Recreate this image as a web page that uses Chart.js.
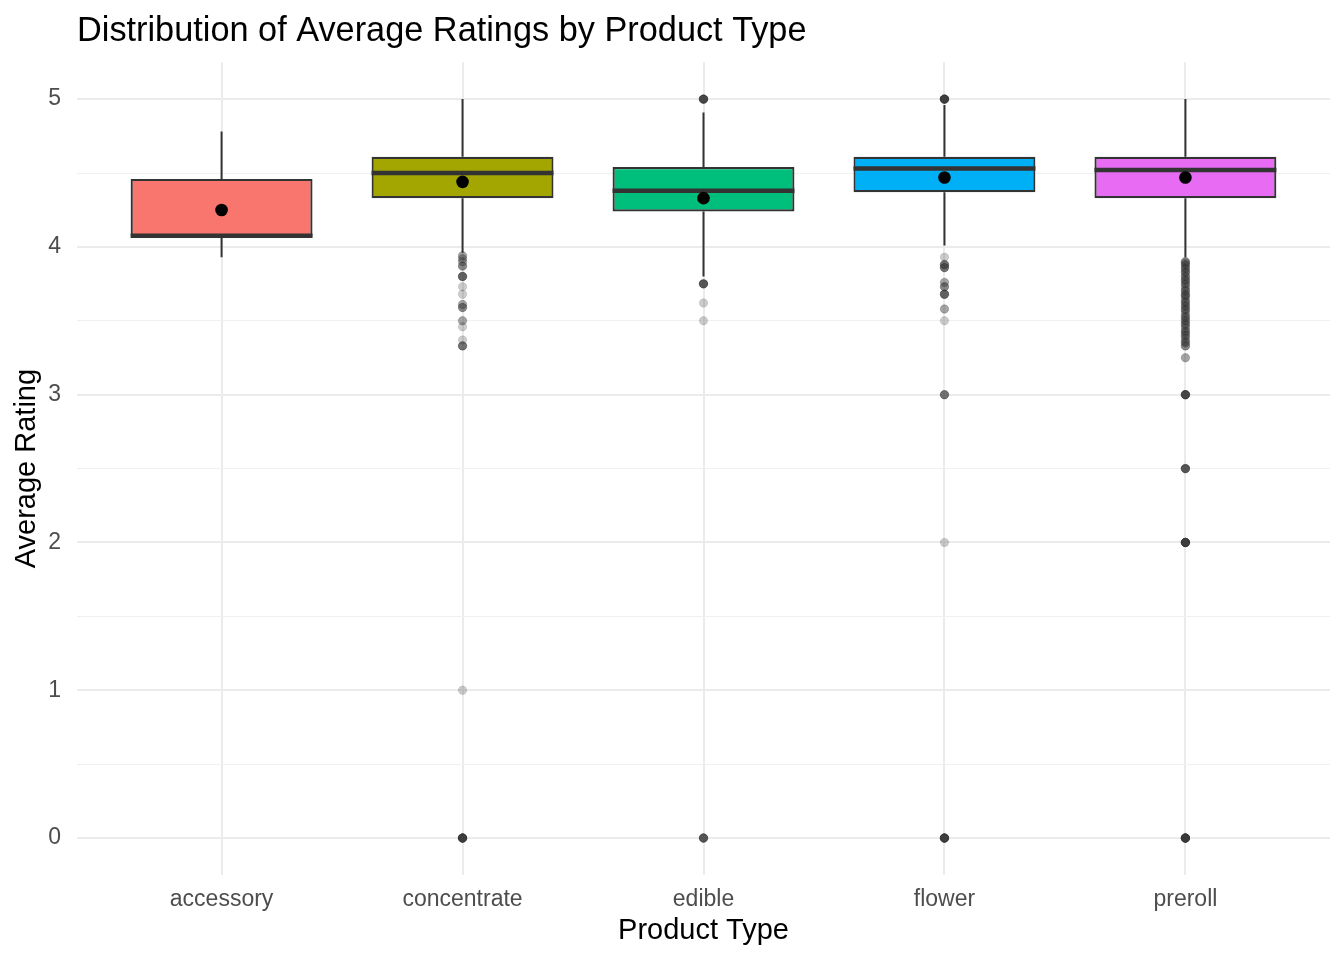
<!DOCTYPE html>
<html>
<head>
<meta charset="utf-8">
<script src="https://cdn.jsdelivr.net/npm/chart.js@4.4.1/dist/chart.umd.min.js"></script>
<style>
  html, body { margin: 0; padding: 0; background: #ffffff; }
  #wrap { width: 1344px; height: 960px; }
</style>
</head>
<body>
<div id="wrap"><canvas id="c" width="1344" height="960"></canvas></div>
<script>
// ---- Data ----
const categories = ['accessory', 'concentrate', 'edible', 'flower', 'preroll'];
const boxColors = ['#F8766D', '#A3A500', '#00BF7D', '#00B0F6', '#E76BF3'];
const q1Values = [4.07, 4.33, 4.24, 4.37, 4.33];
const medianValues = [4.075, 4.50, 4.38, 4.53, 4.52];
const q3Values = [4.46, 4.61, 4.54, 4.61, 4.61];
const whiskerLow = [3.93, 3.96, 3.80, 4.01, 3.93];
const whiskerHigh = [4.78, 5.00, 4.91, 4.96, 5.00];
const meanValues = [4.25, 4.44, 4.33, 4.47, 4.47];

const outliersAccessory = [];
const outliersConcentrate = [3.94, 3.94, 3.92, 3.92, 3.90, 3.90, 3.87, 3.87, 3.87,
  3.80, 3.80, 3.80, 3.80, 3.80, 3.73, 3.68, 3.61, 3.61, 3.59, 3.59, 3.59,
  3.50, 3.50, 3.46, 3.37, 3.33, 3.33, 3.33, 3.33, 1.00,
  0, 0, 0, 0, 0, 0, 0, 0, 0, 0];
const outliersEdible = [5, 5, 5, 5, 5, 5, 5, 5, 3.75, 3.75, 3.75, 3.75, 3.75, 3.75,
  3.62, 3.50, 0, 0, 0, 0, 0, 0];
const outliersFlower = [5, 5, 5, 5, 5, 5, 5, 5, 5, 5, 3.93, 3.88, 3.88, 3.88, 3.88,
  3.86, 3.86, 3.86, 3.86, 3.76, 3.76, 3.73, 3.73, 3.73, 3.68, 3.68, 3.68, 3.68, 3.68,
  3.58, 3.58, 3.50, 3, 3, 3, 3, 2, 0, 0, 0, 0, 0, 0, 0, 0, 0, 0];
const outliersPreroll = [3.90, 3.90, 3.90, 3.89, 3.88, 3.88, 3.88, 3.86, 3.86, 3.85,
  3.85, 3.83, 3.83, 3.83, 3.82, 3.80, 3.80, 3.80, 3.78, 3.78, 3.77, 3.77, 3.75,
  3.75, 3.75, 3.73, 3.73, 3.71, 3.71, 3.70, 3.70, 3.68, 3.68, 3.67, 3.67, 3.67,
  3.65, 3.65, 3.63, 3.63, 3.62, 3.62, 3.60, 3.60, 3.60, 3.58, 3.58, 3.57, 3.57,
  3.55, 3.55, 3.53, 3.53, 3.52, 3.52, 3.50, 3.50, 3.50, 3.48, 3.48, 3.47, 3.47,
  3.45, 3.45, 3.43, 3.43, 3.42, 3.42, 3.40, 3.40, 3.40, 3.38, 3.38, 3.36, 3.36,
  3.35, 3.35, 3.33, 3.33, 3.33, 3.25, 3.25,
  3, 3, 3, 3, 3, 3, 3, 3, 2.5, 2.5, 2.5, 2.5, 2.5, 2.5, 2, 2, 2, 2, 2, 2, 2, 2, 2, 2,
  0, 0, 0, 0, 0, 0, 0, 0, 0, 0, 0, 0];
const outlierGroups = [outliersAccessory, outliersConcentrate, outliersEdible, outliersFlower, outliersPreroll];

const yMajorTicks = [0, 1, 2, 3, 4, 5];
const yMinorTicks = [0.5, 1.5, 2.5, 3.5, 4.5];
const yTickLabels = ['0', '1', '2', '3', '4', '5'];

// ---- Build datasets ----
const xPositions = categories.map((_, i) => i + 1);
const boxData = xPositions.map((x, i) => ({ x: x, y: [q1Values[i], q3Values[i]] }));
const meanData = xPositions.map((x, i) => ({ x: x, y: meanValues[i] }));
const outlierData = [];
outlierGroups.forEach((arr, i) => arr.forEach(v => outlierData.push({ x: xPositions[i], y: v })));

const FONT = '"Liberation Sans", Arial, "DejaVu Sans", sans-serif';
const DARK = '#333333';

const boxExtras = {
  id: 'boxExtras',
  beforeDatasetsDraw(chart) {
    const { ctx, scales: { x, y } } = chart;
    ctx.save();
    ctx.strokeStyle = DARK;
    ctx.lineWidth = 2;
    ctx.lineCap = 'butt';
    xPositions.forEach((xv, i) => {
      const px = x.getPixelForValue(xv);
      ctx.beginPath();
      ctx.moveTo(px, y.getPixelForValue(whiskerLow[i]));
      ctx.lineTo(px, y.getPixelForValue(q1Values[i]));
      ctx.moveTo(px, y.getPixelForValue(q3Values[i]));
      ctx.lineTo(px, y.getPixelForValue(whiskerHigh[i]));
      ctx.stroke();
    });
    ctx.restore();
  },
  afterDatasetDraw(chart, args) {
    if (args.meta.type !== 'bar') return;
    const { ctx, scales: { y } } = chart;
    ctx.save();
    ctx.strokeStyle = DARK;
    ctx.lineWidth = 4.5;
    args.meta.data.forEach((el, i) => {
      const py = y.getPixelForValue(medianValues[i]);
      ctx.beginPath();
      ctx.moveTo(el.x - el.width / 2, py);
      ctx.lineTo(el.x + el.width / 2, py);
      ctx.stroke();
    });
    ctx.restore();
  }
};

new Chart(document.getElementById('c'), {
  type: 'bar',
  data: {
    datasets: [
      {
        type: 'scatter',
        label: 'mean',
        data: meanData,
        order: 1,
        pointRadius: 6.3,
        pointBackgroundColor: '#000000',
        pointBorderWidth: 0,
        showLine: false
      },
      {
        type: 'scatter',
        label: 'outliers',
        data: outlierData,
        order: 2,
        pointRadius: 4.2,
        pointBackgroundColor: 'rgba(51,51,51,0.25)',
        pointBorderColor: 'rgba(51,51,51,0.25)',
        pointBorderWidth: 0.5,
        showLine: false
      },
      {
        type: 'bar',
        label: 'box',
        data: boxData,
        order: 3,
        backgroundColor: boxColors,
        borderColor: DARK,
        borderWidth: 2.2,
        borderSkipped: false,
        grouped: false,
        barPercentage: 0.755,
        categoryPercentage: 1
      }
    ]
  },
  options: {
    responsive: false,
    animation: false,
    devicePixelRatio: 1,
    layout: { padding: { left: 0, right: 14, top: 0, bottom: 0 } },
    plugins: {
      legend: { display: false },
      tooltip: { enabled: false },
      title: {
        display: true,
        text: 'Distribution of Average Ratings by Product Type',
        align: 'start',
        fullSize: false,
        color: '#000000',
        font: { family: FONT, size: 34.3, weight: 'normal' },
        padding: { top: 11, bottom: 10 }
      }
    },
    scales: {
      x: {
        type: 'linear',
        min: 0.4,
        max: 5.6,
        offset: false,
        afterBuildTicks(scale) { scale.ticks = xPositions.map(v => ({ value: v })); },
        afterFit(scale) { scale.height = 85; },
        border: { display: false },
        grid: { color: '#ebebeb', lineWidth: 2, drawTicks: false, offset: false },
        ticks: {
          padding: 11,
          color: '#4d4d4d',
          font: { family: FONT, size: 23 },
          autoSkip: false,
          maxRotation: 0,
          callback: (v) => categories[Math.round(v) - 1] || ''
        },
        title: {
          display: true,
          text: 'Product Type',
          color: '#000000',
          font: { family: FONT, size: 29 },
          padding: { top: 0, bottom: 12 }
        }
      },
      y: {
        type: 'linear',
        min: -0.25,
        max: 5.25,
        afterBuildTicks(scale) {
          scale.ticks = yMajorTicks.concat(yMinorTicks).sort((a, b) => a - b).map(v => ({ value: v }));
        },
        afterFit(scale) { scale.width = 77; },
        border: { display: false },
        grid: {
          drawTicks: false,
          color: (c) => (yMajorTicks.includes(c.tick.value) ? '#ebebeb' : '#f0f0f0'),
          lineWidth: (c) => (yMajorTicks.includes(c.tick.value) ? 2 : 1)
        },
        ticks: {
          padding: 16,
          color: '#4d4d4d',
          font: { family: FONT, size: 23 },
          autoSkip: false,
          callback: (v) => {
            const k = yMajorTicks.indexOf(v);
            return k >= 0 ? yTickLabels[k] : '';
          }
        },
        title: {
          display: true,
          text: 'Average Rating',
          color: '#000000',
          font: { family: FONT, size: 29 },
          padding: { top: 10, bottom: 0 }
        }
      }
    }
  },
  plugins: [boxExtras]
});
</script>
</body>
</html>
